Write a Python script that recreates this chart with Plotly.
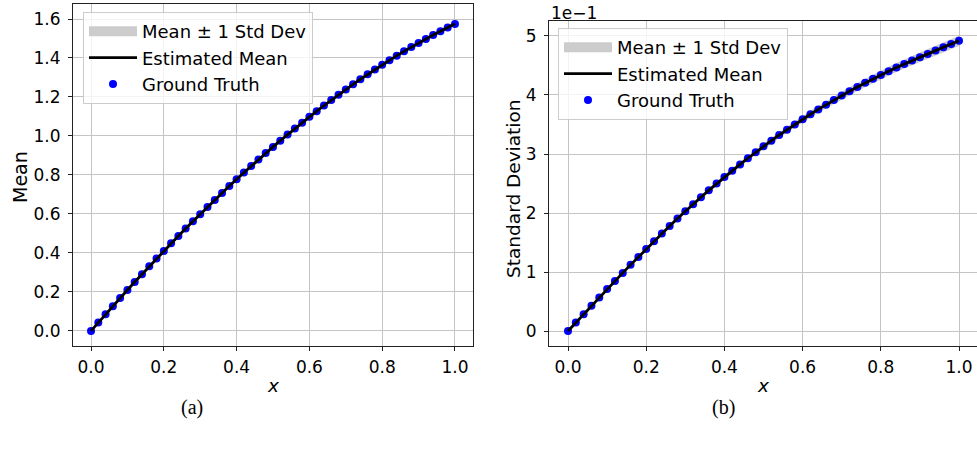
import plotly.graph_objects as go

# ---------------- data ----------------
x_vals = [i / 50 for i in range(51)]

mean_truth = [0.000, 0.043, 0.085, 0.127, 0.169, 0.210, 0.251, 0.291, 0.331, 0.371,
              0.410, 0.449, 0.487, 0.525, 0.562, 0.599, 0.636, 0.672, 0.708, 0.743,
              0.778, 0.812, 0.846, 0.879, 0.912, 0.944, 0.976, 1.007, 1.038, 1.068,
              1.098, 1.127, 1.156, 1.184, 1.212, 1.239, 1.265, 1.291, 1.316, 1.341,
              1.365, 1.389, 1.412, 1.434, 1.456, 1.477, 1.498, 1.518, 1.537, 1.556,
              1.575]
mean_est = [0.000, 0.043, 0.085, 0.127, 0.169, 0.210, 0.251, 0.291, 0.331, 0.371,
            0.410, 0.449, 0.487, 0.525, 0.562, 0.599, 0.636, 0.672, 0.708, 0.743,
            0.778, 0.812, 0.846, 0.879, 0.912, 0.944, 0.976, 1.007, 1.038, 1.068,
            1.098, 1.127, 1.156, 1.184, 1.212, 1.239, 1.265, 1.291, 1.316, 1.341,
            1.365, 1.389, 1.412, 1.434, 1.456, 1.477, 1.498, 1.518, 1.537, 1.556,
            1.576]
mean_band = [0.000, 0.001, 0.001, 0.001, 0.002, 0.002, 0.002, 0.002, 0.003, 0.003,
             0.003, 0.003, 0.003, 0.004, 0.004, 0.004, 0.004, 0.004, 0.004, 0.004,
             0.005, 0.005, 0.005, 0.005, 0.005, 0.005, 0.005, 0.005, 0.005, 0.006,
             0.006, 0.006, 0.006, 0.006, 0.006, 0.006, 0.006, 0.006, 0.006, 0.007,
             0.007, 0.007, 0.007, 0.007, 0.007, 0.007, 0.007, 0.007, 0.008, 0.008,
             0.008]

std_truth = [0.0000, 0.0143, 0.0286, 0.0428, 0.0570, 0.0710, 0.0848, 0.0985, 0.1121, 0.1256,
             0.1390, 0.1522, 0.1652, 0.1780, 0.1906, 0.2030, 0.2150, 0.2268, 0.2384, 0.2498,
             0.2610, 0.2718, 0.2824, 0.2928, 0.3030, 0.3130, 0.3226, 0.3320, 0.3412, 0.3502,
             0.3590, 0.3674, 0.3756, 0.3836, 0.3914, 0.3990, 0.4064, 0.4136, 0.4206, 0.4274,
             0.4340, 0.4404, 0.4466, 0.4526, 0.4584, 0.4640, 0.4696, 0.4752, 0.4808, 0.4864,
             0.4920]
std_est = [0.0000, 0.0143, 0.0286, 0.0428, 0.0570, 0.0710, 0.0848, 0.0985, 0.1121, 0.1256,
           0.1390, 0.1522, 0.1652, 0.1780, 0.1906, 0.2030, 0.2150, 0.2268, 0.2384, 0.2498,
           0.2610, 0.2718, 0.2824, 0.2928, 0.3030, 0.3130, 0.3226, 0.3320, 0.3412, 0.3502,
           0.3590, 0.3674, 0.3756, 0.3836, 0.3914, 0.3990, 0.4064, 0.4136, 0.4206, 0.4274,
           0.4340, 0.4404, 0.4466, 0.4526, 0.4584, 0.4640, 0.4696, 0.4752, 0.4808, 0.4864,
           0.4918]
std_band = [0.0000, 0.0003, 0.0005, 0.0007, 0.0009, 0.0011, 0.0013, 0.0015, 0.0016, 0.0018,
            0.0020, 0.0022, 0.0024, 0.0025, 0.0027, 0.0029, 0.0031, 0.0032, 0.0034, 0.0036,
            0.0038, 0.0039, 0.0041, 0.0043, 0.0045, 0.0046, 0.0048, 0.0050, 0.0052, 0.0053,
            0.0055, 0.0057, 0.0059, 0.0060, 0.0062, 0.0064, 0.0066, 0.0067, 0.0069, 0.0071,
            0.0073, 0.0074, 0.0076, 0.0078, 0.0080, 0.0081, 0.0083, 0.0084, 0.0085, 0.0086,
            0.0087]

x_ticks = [0.0, 0.2, 0.4, 0.6, 0.8, 1.0]
x_ticklabels = ["0.0", "0.2", "0.4", "0.6", "0.8", "1.0"]
mean_ticks = [0.0, 0.2, 0.4, 0.6, 0.8, 1.0, 1.2, 1.4, 1.6]
mean_ticklabels = ["0.0", "0.2", "0.4", "0.6", "0.8", "1.0", "1.2", "1.4", "1.6"]
std_ticks = [0.0, 0.1, 0.2, 0.3, 0.4, 0.5]
std_ticklabels = ["0", "1", "2", "3", "4", "5"]

# ---------------- figure ----------------
W, H = 977, 450
FONT = "DejaVu Sans"
BAND = "rgba(128,128,128,0.4)"
BLUE = "#0000ff"

fig = go.Figure()


def add_panel(fig, xa, ya, truth, est, band, legend):
    lower = [m - b for m, b in zip(est, band)]
    upper = [m + b for m, b in zip(est, band)]
    poly_x = x_vals + x_vals[::-1]
    poly_y = upper + lower[::-1]
    fig.add_trace(go.Scatter(x=poly_x, y=poly_y, mode="lines", line=dict(width=0, color=BAND),
                             fill="toself", fillcolor=BAND, showlegend=False, hoverinfo="skip",
                             xaxis=xa, yaxis=ya))
    # legend entry for the band (patch-like swatch)
    fig.add_trace(go.Scatter(x=[None], y=[None], mode="lines",
                             line=dict(width=14, color="#cccccc"),
                             name="Mean ± 1 Std Dev", legend=legend, legendrank=1,
                             xaxis=xa, yaxis=ya))
    fig.add_trace(go.Scatter(x=x_vals, y=truth, mode="markers",
                             marker=dict(color=BLUE, size=8, symbol="circle"),
                             name="Ground Truth", legend=legend, legendrank=3,
                             xaxis=xa, yaxis=ya))
    fig.add_trace(go.Scatter(x=x_vals, y=est, mode="lines", line=dict(color="black", width=2.8),
                             name="Estimated Mean", legend=legend, legendrank=2,
                             xaxis=xa, yaxis=ya))


add_panel(fig, "x", "y", mean_truth, mean_est, mean_band, "legend")
add_panel(fig, "x2", "y2", std_truth, std_est, std_band, "legend2")

axis_common = dict(
    showline=True, mirror=True, linecolor="#222", linewidth=1,
    ticks="outside", ticklen=4, tickwidth=1, tickcolor="#222",
    showgrid=True, gridcolor="#c4c4c4", gridwidth=1, zeroline=False,
    tickfont=dict(family=FONT, size=17, color="black"),
)

y_bot = (H - 346) / H

legend_common = dict(xanchor="left", yanchor="top",
                     bgcolor="rgba(255,255,255,0.8)", bordercolor="#cccccc", borderwidth=1,
                     font=dict(family=FONT, size=18, color="black"),
                     itemwidth=48)

fig.update_layout(
    width=W, height=H,
    margin=dict(l=0, r=0, t=0, b=0),
    paper_bgcolor="white", plot_bgcolor="white",
    xaxis=dict(domain=[73 / W, 473 / W], range=[-0.0495, 1.0495], tickvals=x_ticks,
               ticktext=x_ticklabels, anchor="y", ticklabelstandoff=2, **axis_common),
    yaxis=dict(domain=[y_bot, (H - 4) / H], range=[-0.0775, 1.677], tickvals=mean_ticks,
               ticktext=mean_ticklabels, anchor="x", ticklabelstandoff=4, **axis_common),
    xaxis2=dict(domain=[549 / W, 1.0], range=[-0.0486, 1.046], tickvals=x_ticks,
                ticktext=x_ticklabels, anchor="y2", ticklabelstandoff=2, **axis_common),
    yaxis2=dict(domain=[y_bot, (H - 21) / H], range=[-0.0254, 0.5254], tickvals=std_ticks,
                ticktext=std_ticklabels, anchor="x2", ticklabelstandoff=4, **axis_common),
    legend=dict(x=83 / W, y=(H - 12) / H, **legend_common),
    legend2=dict(x=558 / W, y=(H - 28) / H, **legend_common),
)

ann = [
    dict(text="Mean", x=20 / W, y=(H - 177) / H, textangle=-90,
         font=dict(family=FONT, size=19, color="black")),
    dict(text="Standard Deviation", x=513 / W, y=(H - 189) / H, textangle=-90,
         font=dict(family=FONT, size=18.5, color="black")),
    dict(text="<i>x</i>", x=273 / W, y=(H - 385) / H,
         font=dict(family=FONT, size=18.5, color="black")),
    dict(text="<i>x</i>", x=763 / W, y=(H - 385) / H,
         font=dict(family=FONT, size=18.5, color="black")),
    dict(text="1e−1", x=549 / W, y=(H - 13) / H, xanchor="left",
         font=dict(family=FONT, size=17, color="black")),
    dict(text="(a)", x=192 / W, y=(H - 407) / H,
         font=dict(family="Liberation Serif", size=20, color="black")),
    dict(text="(b)", x=723 / W, y=(H - 407) / H,
         font=dict(family="Liberation Serif", size=20, color="black")),
]
for a in ann:
    a.setdefault("xanchor", "center")
    a.update(xref="paper", yref="paper", yanchor="middle", showarrow=False)
fig.update_layout(annotations=ann)

fig.write_html("out.html")
